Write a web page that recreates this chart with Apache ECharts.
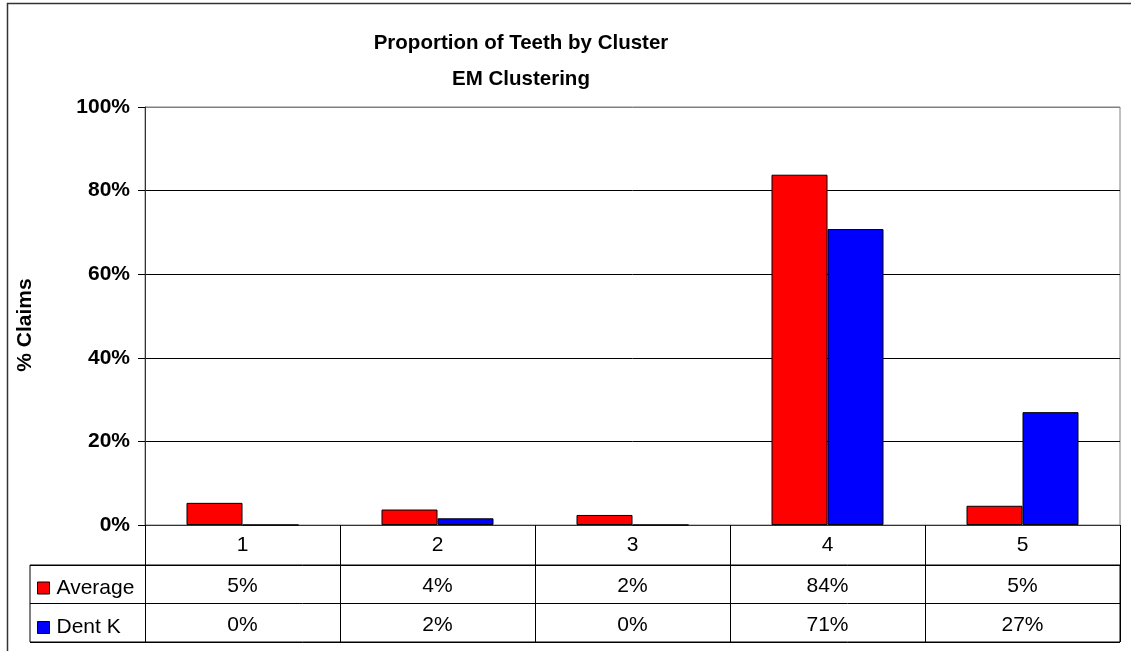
<!DOCTYPE html>
<html>
<head>
<meta charset="utf-8">
<script src="https://cdn.jsdelivr.net/npm/echarts@6/dist/echarts.min.js"></script>
<style>
html,body{margin:0;padding:0;background:#fff;}
#chart{width:1131px;height:651px;}
</style>
</head>
<body>
<div id="chart"></div>
<script>
const categories = ['1', '2', '3', '4', '5'];
const seriesNames = ['Average', 'Dent K'];
const averageValues = [0.053, 0.037, 0.024, 0.838, 0.046];
const dentKValues = [0.0, 0.016, 0.0, 0.708, 0.27];
const yTicks = [0, 0.2, 0.4, 0.6, 0.8, 1.0];

const FONT = 'Liberation Sans, Arial, sans-serif';
const pct = v => Math.round(v * 100) + '%';

const chart = echarts.init(document.getElementById('chart'), null, {renderer: 'canvas'});

const tableRows = [
  {name: 'tableAvg', row: seriesNames[0], vals: averageValues},
  {name: 'tableDent', row: seriesNames[1], vals: dentKValues}
];

const option = {
  animation: false,
  backgroundColor: '#fff',
  title: {
    text: 'Proportion of Teeth by Cluster\nEM Clustering',
    left: 521,
    top: 25,
    padding: 0,
    textAlign: 'center',
    textStyle: {fontFamily: FONT, fontSize: 20.5, fontWeight: 'bold', color: '#000', lineHeight: 36}
  },
  legend: {
    data: seriesNames,
    orient: 'vertical',
    left: 37,
    top: 577,
    padding: 0,
    itemGap: 17.5,
    itemWidth: 12,
    itemHeight: 12,
    icon: 'rect',
    selectedMode: false,
    itemStyle: {borderColor: '#000', borderWidth: 1},
    textStyle: {fontFamily: FONT, fontSize: 21, color: '#000', lineHeight: 22, padding: [0, 0, 0, 2]}
  },
  graphic: [
    {type: 'rect', shape: {x: 7.5, y: 3.5, width: 1200, height: 1000}, style: {fill: null, stroke: '#333', lineWidth: 1.5}, silent: true, z: 100},
    {type: 'text', x: 25.5, y: 325, rotation: Math.PI / 2,
     style: {text: '% Claims', fontFamily: FONT, fontSize: 21, fontWeight: 'bold', fill: '#000', align: 'center', verticalAlign: 'middle'}}
  ],
  grid: [
    {left: 145, right: 11, top: 107, height: 418, show: true, borderColor: '#808080', borderWidth: 1, containLabel: false},
    {left: 145, right: 11, top: 565, height: 77, show: false},
    {left: 30, right: 11, top: 565, height: 77, show: true, borderColor: '#000', borderWidth: 1}
  ],
  xAxis: [
    {
      gridIndex: 0, type: 'category', data: categories,
      axisLine: {lineStyle: {color: '#333', width: 1}},
      axisTick: {show: true, length: 117, alignWithLabel: false, lineStyle: {color: '#000'}},
      axisLabel: {fontFamily: FONT, fontSize: 21, color: '#000', margin: 10},
      splitLine: {show: false}
    },
    {gridIndex: 1, type: 'category', data: categories, show: false},
    {gridIndex: 2, type: 'value', show: false}
  ],
  yAxis: [
    {
      gridIndex: 0, type: 'value', min: 0, max: 1, interval: 0.2,
      axisLine: {show: true, lineStyle: {color: '#333', width: 1}},
      axisTick: {show: true, length: 7, lineStyle: {color: '#000'}},
      axisLabel: {fontFamily: FONT, fontSize: 21, fontWeight: 'bold', color: '#000', margin: 15,
                  formatter: v => pct(v)},
      splitLine: {show: true, lineStyle: {color: ['#000', '#000', '#000', '#000', '#000', '#808080'], width: 1}}
    },
    {gridIndex: 1, type: 'category', data: seriesNames, inverse: true, show: false},
    {
      gridIndex: 2, type: 'category', data: seriesNames, inverse: true,
      axisLine: {show: false}, axisTick: {show: false}, axisLabel: {show: false},
      splitLine: {show: true, lineStyle: {color: '#000', width: 1}}
    }
  ],
  series: [
    {
      name: seriesNames[0], type: 'bar', xAxisIndex: 0, yAxisIndex: 0,
      data: averageValues, barWidth: 56, barGap: '0%',
      itemStyle: {color: '#ff0000', borderColor: '#000', borderWidth: 1}
    },
    {
      name: seriesNames[1], type: 'bar', xAxisIndex: 0, yAxisIndex: 0,
      data: dentKValues, barWidth: 56, barGap: '0%',
      itemStyle: {color: '#0000ff', borderColor: '#000', borderWidth: 1}
    }
  ].concat(tableRows.map(r => ({
    name: r.name, type: 'scatter', xAxisIndex: 1, yAxisIndex: 1,
    symbolSize: 1, itemStyle: {color: 'transparent', opacity: 1},
    data: r.vals.map((v, i) => [categories[i], r.row, v]),
    label: {show: true, position: 'inside', offset: [0, 2], formatter: p => pct(p.value[2]),
            fontFamily: FONT, fontSize: 21, color: '#000', opacity: 1},
    silent: true
  })))
};

chart.setOption(option);
</script>
</body>
</html>
